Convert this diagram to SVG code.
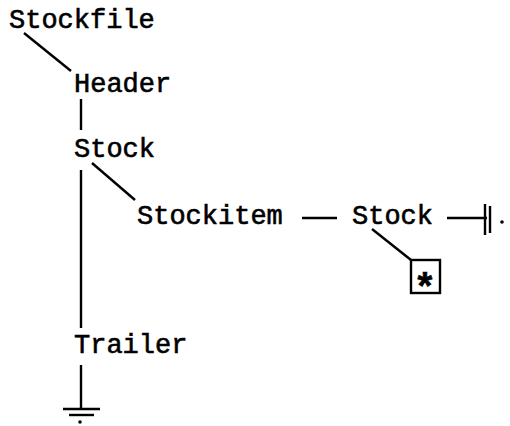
<svg xmlns="http://www.w3.org/2000/svg" width="510" height="426" viewBox="0 0 510 426">
<style>
text{font-family:"Liberation Mono","Courier New",monospace;font-size:27px;fill:#000;stroke:#000;stroke-width:0.6}
text.star{font-size:38px;font-weight:bold}
.c line,.c path,.c rect{stroke:#000;stroke-width:2.4;fill:none}
</style>
<rect width="510" height="426" fill="#fff"/>
<g id="stockfile"><text x="9" y="28">Stockfile</text></g>
<g id="header"><text x="74" y="92">Header</text></g>
<g id="stock1"><text x="74" y="157">Stock</text></g>
<g id="stockitem"><text x="137" y="224">Stockitem</text></g>
<g id="stock2"><text x="352" y="224">Stock</text></g>
<g id="trailer"><text x="74" y="353">Trailer</text></g>
<g id="star"><rect x="411" y="260" width="29" height="33" fill="none" stroke="#000" stroke-width="2.4"/><text class="star" x="425" y="300" text-anchor="middle">*</text></g>
<g class="c" id="connectors">
<line x1="24" y1="33" x2="71" y2="71"/>
<line x1="81" y1="99" x2="81" y2="130"/>
<line x1="92" y1="163" x2="135" y2="200"/>
<line x1="81" y1="170" x2="81" y2="328"/>
<line x1="302" y1="218" x2="337" y2="218"/>
<line x1="372" y1="229" x2="411" y2="260"/>
<line x1="447" y1="218" x2="487" y2="218"/>
<line x1="485" y1="204" x2="485" y2="235"/>
<line x1="490" y1="206" x2="490" y2="233"/>
<circle cx="502" cy="222" r="1.8" fill="#000"/>
<line x1="81" y1="365" x2="81" y2="409"/>
<line x1="63" y1="409" x2="100" y2="409"/>
<line x1="69" y1="415" x2="94" y2="415"/>
<circle cx="80" cy="422" r="1.8" fill="#000"/>
</g>
</svg>
